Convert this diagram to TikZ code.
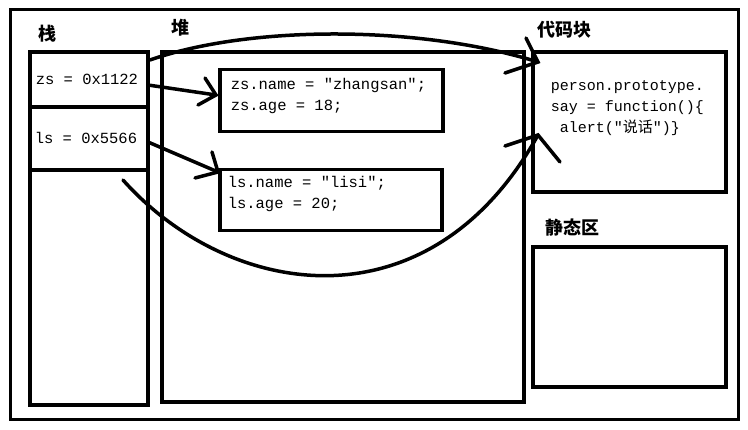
\documentclass[tikz,border=0pt]{standalone}
\usepackage{fontspec}
\setmonofont{Liberation Mono}
\newfontfamily\cjk{Noto Sans CJK SC}
\begin{document}
\begin{tikzpicture}[x=1pt,y=-1pt,line width=3.5pt,
  box/.style={draw,line width=3.5pt},
  code/.style={font=\ttfamily\fontsize{15.5}{21}\selectfont,align=left,anchor=north west,inner sep=0pt},
  lbl/.style={font=\cjk\bfseries\fontsize{18}{18}\selectfont,inner sep=0pt},
  hand/.style={line width=3.5pt,line cap=round}]
\useasboundingbox (0,0) rectangle (748,430);
\fill[white] (0,0) rectangle (748,430);
\draw[line width=3pt] (10,10) rectangle (738,420);
% stack
\draw[box] (30,52) rectangle (148,405);
\draw[box] (30,107) -- (148,107);
\draw[box] (30,170) -- (148,170);
\node[code,anchor=west] (zs) at (34,79) {zs = 0x1122};
\node[code,anchor=west] (ls) at (33,138) {ls = 0x5566};
\node[lbl] (stk) at (47,34) {栈};
% heap
\draw[box] (162,52) rectangle (524,402);
\node[lbl] (heap) at (180,28) {堆};
\node[draw,line width=3.5pt,minimum width=223pt,minimum height=62pt,anchor=north west] (zb) at (218,68) {};
\node[code] (zt) at (229,77) {zs.name = "zhangsan";\\zs.age = 18;};
\node[draw,line width=3.5pt,minimum width=222pt,minimum height=61pt,anchor=north west] (lb) at (218,168) {};
\node[code] (lt) at (226,175) {ls.name = "lisi";\\ls.age = 20;};
% code block
\draw[box] (533,52) rectangle (726,192);
\node[lbl] (cb) at (564,30) {代码块};
\node[code,font=\ttfamily\fontsize{15}{21}\selectfont] (ct) at (549,79) {person.prototype.\\say = function()\{\\\hspace*{0.6em}alert("{\cjk 说话}")\}};
\draw[box] (533,247) rectangle (726,387);
\node[lbl] (sq) at (572,228) {静态区};
% arrows
\coordinate (a1) at (148,85); \coordinate (a1e) at (216,95);
\draw[hand] (a1) -- (a1e); \draw[hand] (205,78) -- (a1e) -- (198,105);
\coordinate (a2) at (148,142); \coordinate (a2e) at (218,172);
\draw[hand] (a2) -- (a2e); \draw[hand] (212,152) -- (a2e) -- (195,178);
\coordinate (b1) at (150,60); \coordinate (b1e) at (538,62);
\draw[hand] (b1) .. controls (250,25) and (420,25) .. (b1e);
\draw[hand] (526,38) -- (b1e) -- (505,73);
\coordinate (b2) at (123,180); \coordinate (b2e) at (538,135);
\draw[hand] (b2) .. controls (230,300) and (430,330) .. (b2e);
\draw[hand] (505,146) -- (b2e) -- (560,162);
\end{tikzpicture}
\end{document}
